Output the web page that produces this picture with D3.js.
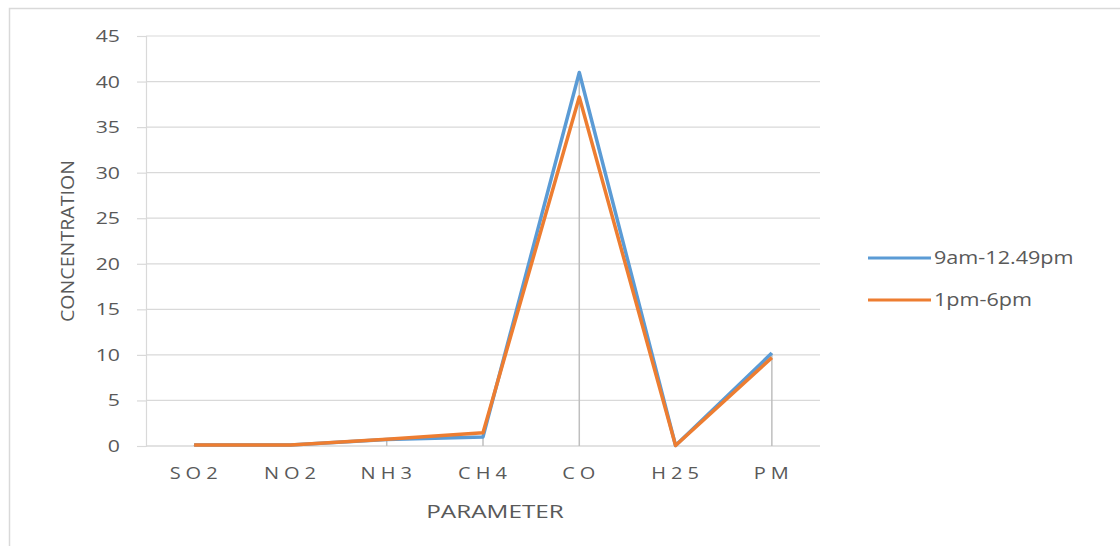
<!DOCTYPE html>
<html><head><meta charset="utf-8">
<script src="https://cdn.jsdelivr.net/npm/d3@7"></script>
<style>
body{margin:0;background:#fff;}
svg{display:block;font-family:"Open Sans","Liberation Sans",sans-serif;}
</style></head>
<body>
<svg id="chart" width="1120" height="546"></svg>
<script>
const categories = ["SO2","NO2","NH3","CH4","CO","H25","PM"];
const morning = [0.1, 0.1, 0.7, 1.0, 41.0, 0.05, 10.2];
const afternoon = [0.1, 0.1, 0.75, 1.45, 38.3, 0.05, 9.7];
const seriesNames = ["9am-12.49pm","1pm-6pm"];
const yTicks = [0,5,10,15,20,25,30,35,40,45];

const svg = d3.select("#chart");
const colors = ["#5b9bd5","#ed7d31"];
const grey = "#595959";
const SX = 1.25;

// outer border
svg.append("rect").attr("x",9.5).attr("y",8.5).attr("width",1125).attr("height",560)
  .attr("fill","none").attr("stroke","#d9d9d9").attr("stroke-width",1.5);

const x = d3.scalePoint().domain(categories).range([146,820]).padding(0.5);
const y = d3.scaleLinear().domain([0,45]).range([446,36]);

// gridlines
svg.append("g").selectAll("line").data(yTicks.filter(d=>d>0)).join("line")
  .attr("x1",146).attr("x2",820).attr("y1",d=>y(d)).attr("y2",d=>y(d))
  .attr("stroke","#d9d9d9").attr("stroke-width",1.2);

// y axis
const yAxis = svg.append("g").attr("transform","translate(146,0)")
  .call(d3.axisLeft(y).tickValues(yTicks).tickSize(9).tickPadding(26));
yAxis.select(".domain").attr("stroke","#d9d9d9").attr("stroke-width",1.2);
yAxis.selectAll(".tick line").attr("stroke","#d9d9d9").attr("stroke-width",1.2);
yAxis.selectAll("text").attr("fill",grey).style("font-size","17px")
  .style("font-family","'Open Sans',sans-serif")
  .attr("x",0).attr("transform",`translate(-26,0) scale(${SX},1)`);

// x axis baseline
svg.append("line").attr("x1",146).attr("x2",820).attr("y1",446).attr("y2",446)
  .attr("stroke","#d9d9d9").attr("stroke-width",1.5);

// x labels
svg.append("g").selectAll("text").data(categories).join("text")
  .attr("transform",d=>`translate(${x(d)+2},479) scale(${SX},1)`)
  .attr("text-anchor","middle")
  .attr("fill",grey).style("font-size","16px").style("letter-spacing","4px")
  .text(d=>d);

// drop lines
const maxVals = categories.map((c,i)=>Math.max(morning[i],afternoon[i]));
svg.append("g").selectAll("line").data(categories).join("line")
  .attr("x1",d=>x(d)).attr("x2",d=>x(d))
  .attr("y1",446).attr("y2",(d,i)=>y(maxVals[i]))
  .attr("stroke","#bfbfbf").attr("stroke-width",1.5);

// lines
const line = d3.line().x((d,i)=>x(categories[i])).y(d=>y(d));
[morning, afternoon].forEach((s,k)=>{
  svg.append("path").datum(s).attr("d",line).attr("fill","none")
    .attr("stroke",colors[k]).attr("stroke-width",3.5).attr("stroke-linejoin","round");
});

// axis titles
svg.append("text").attr("transform","translate(74,241) rotate(-90)")
  .attr("text-anchor","middle").attr("fill",grey)
  .attr("textLength",162).attr("lengthAdjust","spacingAndGlyphs")
  .style("font-size","19px").style("font-family","'Liberation Sans Narrow','Open Sans',sans-serif")
  .text("CONCENTRATION");
svg.append("text").attr("transform",`translate(495,518) scale(${1.35},1)`).attr("text-anchor","middle")
  .attr("fill",grey).style("font-size","18px").text("PARAMETER");

// legend
const legY = [258, 300];
seriesNames.forEach((n,k)=>{
  svg.append("line").attr("x1",868).attr("x2",931).attr("y1",legY[k]).attr("y2",legY[k])
    .attr("stroke",colors[k]).attr("stroke-width",3);
  svg.append("text").attr("transform",`translate(934,${legY[k]+6}) scale(1.2,1)`).attr("fill",grey)
    .style("font-size","18px").text(n);
});
</script>
</body></html>
